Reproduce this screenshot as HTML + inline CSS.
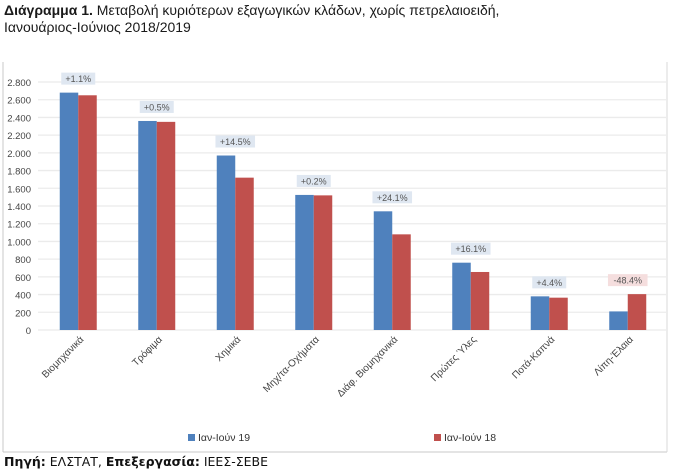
<!DOCTYPE html>
<html><head><meta charset="utf-8"><style>
body{margin:0;width:678px;height:469px;background:#fff;overflow:hidden;font-family:"Liberation Sans","DejaVu Sans",sans-serif;}
.t{position:absolute;left:4px;font-size:14px;color:#1a1a1a;line-height:17px}
</style></head><body>
<div class="t" style="top:2px"><b>Διάγραμμα 1.</b> Μεταβολή κυριότερων εξαγωγικών κλάδων, χωρίς πετρελαιοειδή,<br>Ιανουάριος-Ιούνιος 2018/2019</div>
<svg id="c" width="678" height="469" style="position:absolute;left:0;top:0" xmlns="http://www.w3.org/2000/svg">
<line x1="3" y1="62" x2="3" y2="452" stroke="#c8c8c8"/>
<line x1="3" y1="452" x2="667" y2="452" stroke="#c8c8c8"/>
<line x1="667" y1="62" x2="667" y2="452" stroke="#d8d8d8"/>
<g id="g"></g>
<text x="4" y="466" font-size="12.5" fill="#111" font-family="DejaVu Sans, sans-serif"><tspan font-weight="bold">Πηγή:</tspan> ΕΛΣΤΑΤ, <tspan font-weight="bold">Επεξεργασία:</tspan> ΙΕΕΣ-ΣΕΒΕ</text>
</svg>
<script>
const categories=["Βιομηχανικά","Τρόφιμα","Χημικά","Μηχ/τα-Οχήματα","Διάφ. Βιομηχανικά","Πρώτες Ύλες","Ποτά-Καπνά","Λίπη-Έλαια"];
const values19=[2680,2360,1970,1525,1340,760,380,210];
const values18=[2650,2350,1720,1520,1080,655,365,405];
const changes=["+1.1%","+0.5%","+14.5%","+0.2%","+24.1%","+16.1%","+4.4%","-48.4%"];
const ticks=[0,200,400,600,800,1000,1200,1400,1600,1800,2000,2200,2400,2600,2800];
const tickLabels=["0","200","400","600","800","1.000","1.200","1.400","1.600","1.800","2.000","2.200","2.400","2.600","2.800"];
const NS="http://www.w3.org/2000/svg",g=document.getElementById('g');
const y=v=>330-v*248/2800, band=78.5, x0=39, bw=18.5;
const cx=i=>x0+band*(i+0.5);
function mk(t,a){const e=document.createElementNS(NS,t);for(const k in a)e.setAttribute(k,a[k]);g.appendChild(e);return e;}
ticks.forEach((t,i)=>{
 const l=mk('line',{x1:38,x2:666,y1:y(t),y2:y(t),stroke:'#ebebeb','stroke-width':1.3});
 
 
 const tx=mk('text',{x:31,y:y(t)+4,'text-anchor':'end','font-size':9.5,fill:'#444'});
 tx.textContent=tickLabels[i];
 
 
});
categories.forEach((c,i)=>{
 const b1=mk('rect',{x:cx(i)-bw,y:y(values19[i]),width:bw,height:y(0)-y(values19[i]),fill:'#4f81bd'});
 
 
 const b2=mk('rect',{x:cx(i),y:y(values18[i]),width:bw,height:y(0)-y(values18[i]),fill:'#c0504d'});
 
 
 const top=y(Math.max(values19[i],values18[i]))-14;
 const neg=changes[i][0]=='-';
 const w=changes[i].length*5.6+6;
 const bx=mk('rect',{x:cx(i)-w/2,y:top-6,width:w,height:12,fill:neg?'#f5dede':'#dfe7f1'});
 
 
 const lt=mk('text',{x:cx(i),y:top+3.5,'text-anchor':'middle','font-size':9,fill:'#555'});
 lt.textContent=changes[i];
 
 
 const xl=mk('text',{x:cx(i)+6,y:340,'text-anchor':'end','font-size':10,fill:'#444',transform:`rotate(-45 ${cx(i)+6} 340)`});
 xl.textContent=c;
 
 
});
[["Ιαν-Ιούν 19",'#4f81bd',188],["Ιαν-Ιούν 18",'#c0504d',434]].forEach(([t,col,lx])=>{
 const r=mk('rect',{x:lx,y:434,width:7,height:7,fill:col});
 
 
 const tx=mk('text',{x:lx+10,y:441,'font-size':10.5,fill:'#333'});
 tx.textContent=t;
 
 
});
</script>
</body></html>
